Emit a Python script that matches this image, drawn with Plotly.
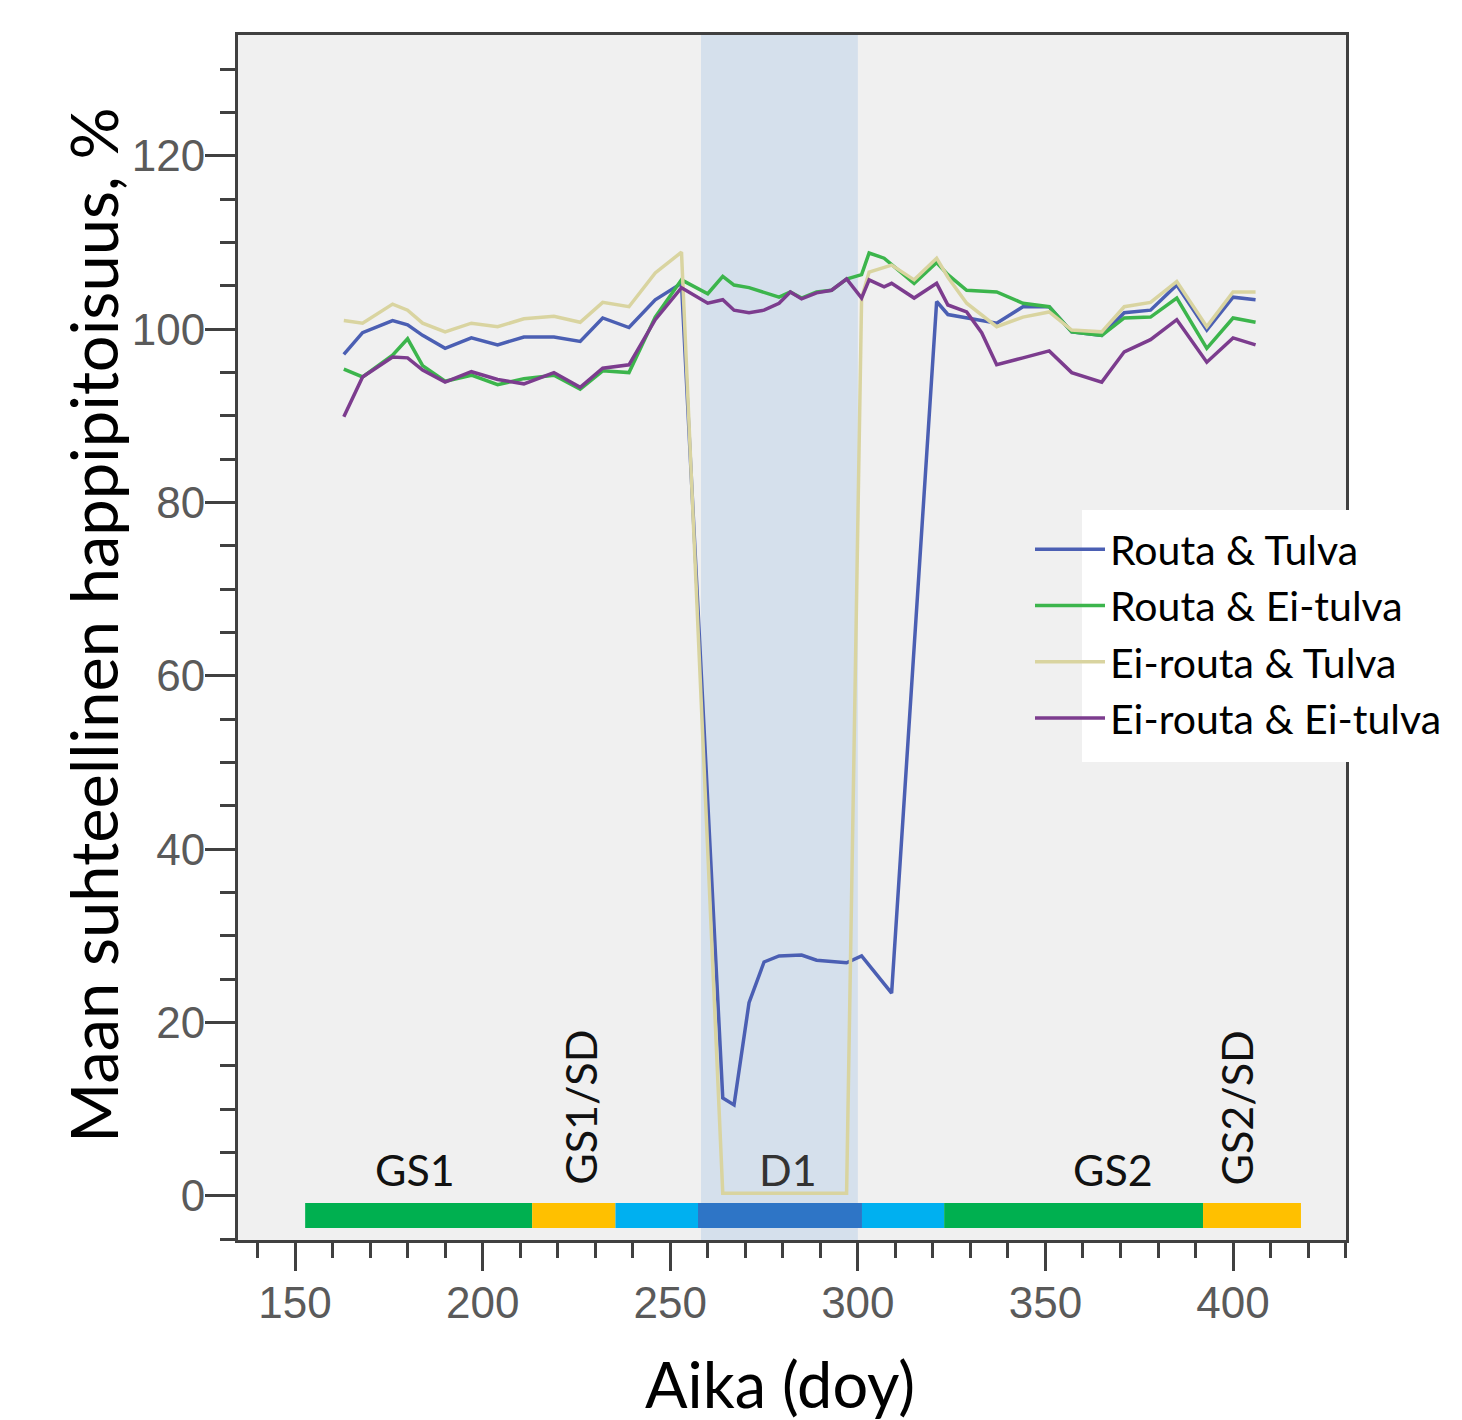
import plotly.graph_objects as go

# ---------------- data ----------------
days = [163, 168, 176, 180, 184, 190, 197, 204, 211, 219, 226, 232, 239, 246, 253,
        260, 264, 267, 271, 275, 279, 282, 285, 289, 293, 297, 301, 303, 307, 309,
        315, 321, 324, 329, 333, 337, 344, 351, 357, 365, 371, 378, 385, 393, 400, 406]

routa_tulva = [97.1, 99.6, 101.0, 100.5, 99.3, 97.8, 99.0, 98.2, 99.1, 99.1, 98.6, 101.3, 100.2, 103.4, 105.3,
               None, 11.3, 10.5, 22.3, 27.0, 27.7, None, 27.8, 27.2, None, 26.9, 27.7, None, None, 23.4,
               None, 103.2, 101.7, 101.3, None, 100.7, 102.6, 102.6, 99.7, 99.3, 101.9, 102.2, 105.1, 99.9, 103.7, 103.4]

routa_eitulva = [95.4, 94.5, 97.0, 98.9, 95.8, 94.0, 94.7, 93.6, 94.3, 94.7, 93.1, 95.2, 95.0, 101.4, 105.7,
                 104.1, 106.1, 105.1, 104.8, None, 103.7, 104.3, 103.6, 104.3, 104.5, 105.8, 106.3, 108.8, 108.2, None,
                 105.3, 107.7, 106.3, 104.5, None, 104.3, 103.0, 102.6, 99.7, 99.3, 101.3, 101.4, 103.6, 97.8, 101.3, 100.8]

eirouta_tulva = [101.0, 100.7, 102.9, 102.2, 100.7, 99.7, 100.7, 100.3, 101.2, 101.5, 100.8, 103.1, 102.6, 106.5, 108.9,
                 None, 0.3, 0.3, 0.3, 0.3, 0.3, 0.3, 0.3, 0.3, 0.3, 0.3, 103.6, 106.6, None, 107.4,
                 105.7, 108.2, 106.0, 103.0, None, 100.3, 101.4, 102.0, 99.9, 99.7, 102.6, 103.1, 105.5, 100.3, 104.3, 104.3]

eirouta_eitulva = [89.9, 94.5, 96.8, 96.7, 95.3, 93.9, 95.1, 94.2, 93.7, 95.0, 93.3, 95.5, 95.9, 101.1, 104.8,
                   103.0, 103.4, 102.2, 101.9, 102.2, 103.0, 104.3, 103.5, 104.2, 104.5, 105.8, 103.6, 105.7, 104.9, 105.3,
                   103.6, 105.3, 102.8, 102.0, 99.6, 95.9, 96.7, 97.5, 95.0, 93.9, 97.4, 98.8, 101.1, 96.2, 99.0, 98.2]

series_names = ["Routa & Tulva", "Routa & Ei-tulva", "Ei-routa & Tulva", "Ei-routa & Ei-tulva"]
series_values = [routa_tulva, routa_eitulva, eirouta_tulva, eirouta_eitulva]
series_colors = ["#4b5fb3", "#3cb54c", "#d9d4a0", "#7c3c8e"]

# D1 shaded period
d1_start, d1_end = 258.2, 300.0

# phase bar along the bottom
phase_starts = [152.7, 213.2, 235.4, 257.4, 301.1, 323.0, 392.0]
phase_ends = [213.2, 235.4, 257.4, 301.1, 323.0, 392.0, 418.1]
phase_colors = ["#00b050", "#ffc000", "#00b0f0", "#2e75c6", "#00b0f0", "#00b050", "#ffc000"]

# phase labels
label_texts = ["GS1", "GS1/SD", "D1", "GS2", "GS2/SD"]
label_days = [182.0, 226.0, 281.5, 368.0, 401.0]
label_vals = [3.0, 10.2, 3.0, 3.0, 10.2]
label_angles = [0, -90, 0, 0, -90]
label_colors = ["#111111", "#111111", "#333333", "#111111", "#111111"]

x_major_ticks = [150, 200, 250, 300, 350, 400]
y_major_ticks = [0, 20, 40, 60, 80, 100, 120]

x_title = "Aika (doy)"
y_title = "Maan suhteellinen happipitoisuus, %"

# ---------------- figure ----------------
# plot area in page pixels (page body has an 8px offset)
PL, PR, PT, PB = 238, 1346, 35, 1240
PW, PH = PR - PL, PB - PT

fig = go.Figure()

for i, (name, vals, col) in enumerate(zip(series_names, series_values, series_colors)):
    fig.add_trace(go.Scatter(
        x=days, y=vals, name=name, mode="lines", connectgaps=True,
        line=dict(color=col, width=3.5), legendgroup=f"g{i}"
    ))

shapes = [dict(type="rect", xref="x", yref="paper", x0=d1_start, x1=d1_end, y0=0, y1=1,
               fillcolor="#d5e0ec", line=dict(width=0), layer="below")]
for s, e, c in zip(phase_starts, phase_ends, phase_colors):
    shapes.append(dict(type="rect", xref="x", yref="y", x0=s, x1=e, y0=-3.7, y1=-0.8,
                       fillcolor=c, line=dict(width=0), layer="above"))
# white legend panel
shapes.append(dict(type="rect", xref="paper", yref="paper",
                   x0=(1082 - PL) / PW, x1=(1460 - PL) / PW,
                   y0=(PB - 762) / PH, y1=(PB - 510) / PH,
                   fillcolor="white", line=dict(width=0), layer="above"))

annotations = []
for t, xd, yv, ang, col in zip(label_texts, label_days, label_vals, label_angles, label_colors):
    annotations.append(dict(x=xd, y=yv, xref="x", yref="y", text=t, showarrow=False,
                            textangle=ang, xanchor="center", yanchor="middle",
                            font=dict(family="Lato", size=43, color=col)))
# axis titles
annotations.append(dict(x=(93 - PL) / PW, y=(PB - 625) / PH, xref="paper", yref="paper",
                        text=y_title, showarrow=False, textangle=-90,
                        xanchor="center", yanchor="middle",
                        font=dict(family="Lato", size=65, color="black")))
annotations.append(dict(x=(780 - PL) / PW, y=(PB - 1383) / PH, xref="paper", yref="paper",
                        text=x_title, showarrow=False,
                        xanchor="center", yanchor="middle",
                        font=dict(family="Lato", size=63, color="black")))

fig.update_layout(
    width=1454, height=1412,
    margin=dict(l=PL - 8, r=1454 - (PR - 8), t=PT - 8, b=1412 - (PB - 8)),
    paper_bgcolor="white", plot_bgcolor="#f0f0f0",
    font=dict(family="Lato", color="black"),
    shapes=shapes, annotations=annotations,
    showlegend=True,
    legend=dict(x=(1030 - PL) / PW, y=(PB - 516) / PH, xanchor="left", yanchor="top",
                bgcolor="rgba(0,0,0,0)", borderwidth=0, tracegroupgap=0,
                font=dict(family="Lato", size=41, color="black"), itemwidth=70),
)

fig.update_xaxes(
    range=[134.8, 430.1], tickvals=x_major_ticks, ticks="outside", ticklen=28, tickwidth=3,
    tickcolor="#404040", showgrid=False, zeroline=False,
    showline=True, linecolor="#404040", linewidth=3, mirror=True,
    tickfont=dict(family="Liberation Sans", size=44, color="#5a5a5a"), ticklabelstandoff=-6,
    minor=dict(dtick=10, tick0=140, ticks="outside", ticklen=15, tickwidth=3, tickcolor="#404040"),
)
fig.update_yaxes(
    range=[-5.08, 133.95], tickvals=y_major_ticks, ticks="outside", ticklen=30, tickwidth=3,
    tickcolor="#404040", showgrid=False, zeroline=False,
    showline=True, linecolor="#404040", linewidth=3, mirror=True,
    tickfont=dict(family="Liberation Sans", size=44, color="#5a5a5a"), ticklabelstandoff=-9,
    minor=dict(dtick=5, tick0=0, ticks="outside", ticklen=15, tickwidth=3, tickcolor="#404040"),
)

fig.write_html("out.html")
